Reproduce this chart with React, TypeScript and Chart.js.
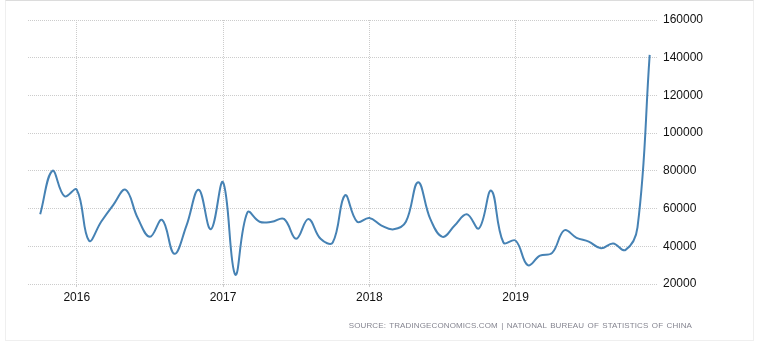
import React, { useEffect, useRef } from "react";
import { Chart, registerables } from "chart.js";

Chart.register(...registerables);

// Monthly observations, Oct 2015 .. Dec 2019
const months: string[] = [
  "2015-10", "2015-11", "2015-12",
  "2016-01", "2016-02", "2016-03", "2016-04", "2016-05", "2016-06", "2016-07", "2016-08", "2016-09", "2016-10", "2016-11", "2016-12",
  "2017-01", "2017-02", "2017-03", "2017-04", "2017-05", "2017-06", "2017-07", "2017-08", "2017-09", "2017-10", "2017-11", "2017-12",
  "2018-01", "2018-02", "2018-03", "2018-04", "2018-05", "2018-06", "2018-07", "2018-08", "2018-09", "2018-10", "2018-11", "2018-12",
  "2019-01", "2019-02", "2019-03", "2019-04", "2019-05", "2019-06", "2019-07", "2019-08", "2019-09", "2019-10", "2019-11", "2019-12",
];

const values: number[] = [
  57000, 80000, 66500,
  70000, 43000, 53000, 62000, 70000, 55000, 45000, 54000, 36000, 51000, 70000, 49000,
  74000, 25000, 58000, 53000, 53000, 54500, 44000, 54500, 44000, 42000, 67000, 53000,
  55000, 51000, 49000, 53000, 74000, 54500, 45000, 51000, 57000, 49500, 69500, 42000,
  43000, 30000, 35000, 36500, 48500, 44500, 42500, 39000, 41500, 38000, 50000, 141500,
];

const yearTicks: string[] = ["2016", "2017", "2018", "2019"];
const yTickMin = 20000;
const yTickMax = 160000;
const yTickStep = 20000;

const sourceText = "SOURCE: TRADINGECONOMICS.COM | NATIONAL BUREAU OF STATISTICS OF CHINA";

export default function App() {
  const canvasRef = useRef<HTMLCanvasElement | null>(null);

  useEffect(() => {
    if (!canvasRef.current) return;
    const points = values.map((v, i) => ({ x: i, y: v }));
    const yearIdx = yearTicks.map((y) => months.indexOf(y + "-01"));

    const chart = new Chart(canvasRef.current, {
      type: "line",
      data: {
        datasets: [
          {
            data: points,
            borderColor: "#4682b4",
            borderWidth: 2,
            pointRadius: 0,
            tension: 0.4,
            fill: false,
          },
        ],
      },
      options: {
        animation: false,
        responsive: false,
        devicePixelRatio: 1,
        layout: { padding: { left: 28, top: 20, right: 0, bottom: 43 } },
        plugins: { legend: { display: false }, tooltip: { enabled: false } },
        scales: {
          x: {
            type: "linear",
            min: -1,
            max: 50.6,
            afterBuildTicks: (scale: any) => {
              scale.ticks = yearIdx.map((v) => ({ value: v }));
            },
            afterFit: (scale: any) => {
              scale.height = 20;
            },
            ticks: {
              autoSkip: false,
              maxRotation: 0,
              padding: 3,
              color: "#111",
              font: { family: "Liberation Sans", size: 12 },
              callback: (v: any) => {
                const k = yearIdx.indexOf(Number(v));
                return k >= 0 ? yearTicks[k] : "";
              },
            },
            grid: { color: "#cccccc", lineWidth: 1, drawTicks: true, tickLength: 3 },
            border: { display: false, dash: [1, 1] },
          },
          y: {
            position: "right",
            min: yTickMin,
            max: yTickMax,
            afterFit: (scale: any) => {
              scale.width = 104;
            },
            ticks: {
              stepSize: yTickStep,
              padding: 6,
              color: "#111",
              font: { family: "Liberation Sans", size: 12 },
              callback: (v: any) => String(v),
            },
            grid: { color: "#cccccc", lineWidth: 1, drawTicks: false },
            border: { display: false, dash: [1, 1] },
          },
        },
      },
    } as any);
    return () => chart.destroy();
  }, []);

  return (
    <div style={{ position: "absolute", left: 0, top: 0, width: 761, height: 347, background: "#fff" }}>
      <div
        style={{
          position: "absolute",
          left: 5,
          top: 0,
          width: 749,
          height: 341,
          boxSizing: "border-box",
          borderLeft: "1px solid #efefef",
          borderRight: "1px solid #efefef",
          borderBottom: "1px solid #efefef",
          borderTop: "1px solid #dcdcdc",
        }}
      />
      <canvas
        ref={canvasRef}
        width={761}
        height={347}
        style={{ position: "absolute", left: 0, top: 0, width: 761, height: 347 }}
      />
      <div
        style={{
          position: "absolute",
          right: 761 - 692,
          top: 320,
          fontFamily: "Liberation Sans",
          fontSize: 8,
          letterSpacing: 0.12,
          wordSpacing: 1,
          color: "#858590",
          whiteSpace: "nowrap",
          lineHeight: "11px",
        }}
      >
        {sourceText}
      </div>
    </div>
  );
}
